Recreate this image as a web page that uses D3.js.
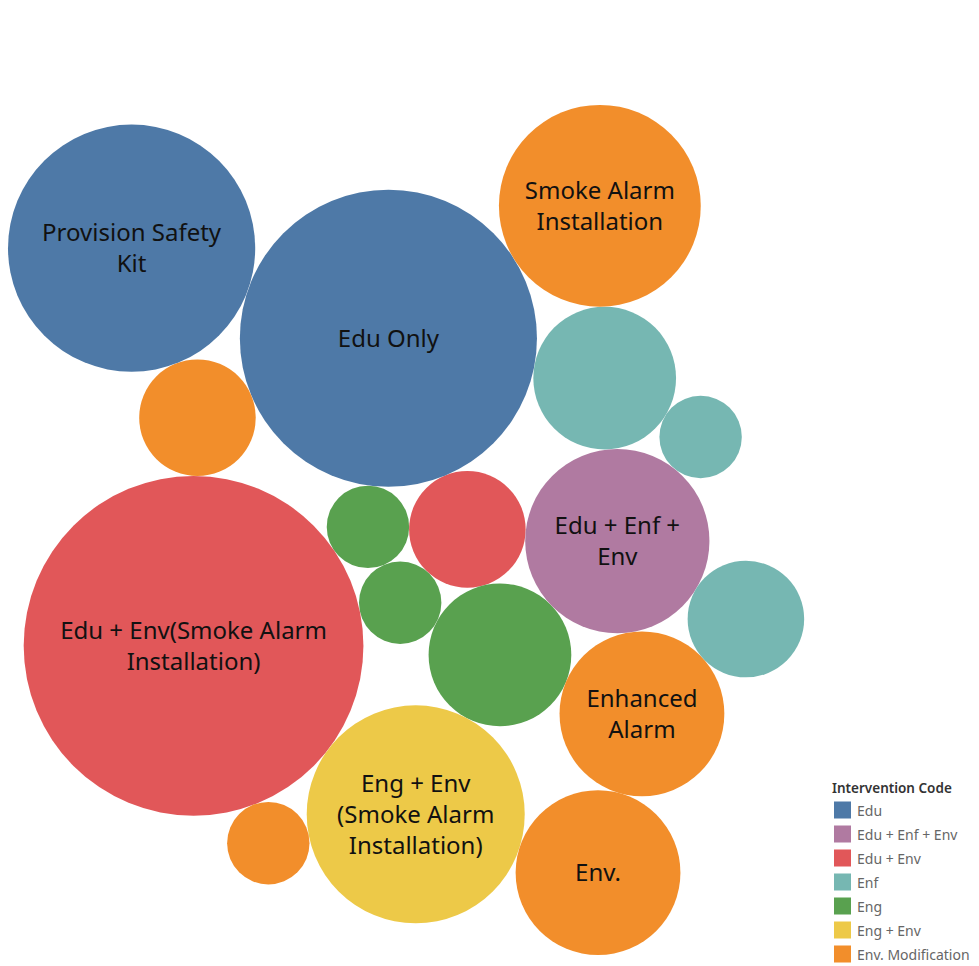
<!DOCTYPE html>
<html>
<head>
<meta charset="utf-8">
<script src="https://cdn.jsdelivr.net/npm/d3@7"></script>
<style>
  body { margin: 0; background: #fff; }
  svg { display: block; font-family: "Noto Sans", sans-serif; }
</style>
</head>
<body>
<div id="chart"></div>
<script>
const width = 979;
const height = 966;

// one entry per bubble, in the order they get packed ("" = bubble too small for its label)
const labels = [
  "",
  "",
  "",
  "",
  "Edu Only",
  "Edu + Enf +\nEnv",
  "Edu + Env(Smoke Alarm\nInstallation)",
  "Eng + Env\n(Smoke Alarm\nInstallation)",
  "",
  "",
  "Enhanced\nAlarm",
  "Env.",
  "",
  "",
  "Smoke Alarm\nInstallation",
  "",
  "Provision Safety\nKit"
];
const codes = [
  "Edu + Env", "Eng", "Eng", "Eng", "Edu", "Edu + Enf + Env", "Edu + Env",
  "Eng + Env", "Enf", "Env. Modification", "Env. Modification", "Env. Modification",
  "Enf", "Enf", "Env. Modification", "Env. Modification", "Edu"
];
const counts = [2, 1, 1, 3, 13, 5, 17, 7, 3, 2, 4, 4, 1, 2, 6, 1, 9];

// legend
const codeOrder = ["Edu", "Edu + Enf + Env", "Edu + Env", "Enf", "Eng", "Eng + Env", "Env. Modification"];
const codeColors = ["#4e79a7", "#b07aa1", "#e15759", "#76b7b2", "#59a14f", "#edc948", "#f28e2b"];

const color = d3.scaleOrdinal().domain(codeOrder).range(codeColors);
const radius = d3.scaleSqrt().domain([0, 1]).range([0, 41.2]);

// orientation / placement of the packed group
const rotation = 132.5; // degrees
const packLeft = 8;
const packMidY = 530;

const svg = d3
  .select("#chart")
  .append("svg")
  .attr("width", width)
  .attr("height", height);

const nodes = counts.map((v, i) => ({
  label: labels[i],
  code: codes[i],
  value: v,
  r: radius(v)
}));

d3.packSiblings(nodes);

const a = (rotation * Math.PI) / 180;
nodes.forEach((d) => {
  const x = d.x * Math.cos(a) - d.y * Math.sin(a);
  const y = d.x * Math.sin(a) + d.y * Math.cos(a);
  d.x = x;
  d.y = y;
});
const x0 = d3.min(nodes, (d) => d.x - d.r);
const y0 = d3.min(nodes, (d) => d.y - d.r);
const y1 = d3.max(nodes, (d) => d.y + d.r);
const dx = packLeft - x0;
const dy = packMidY - (y0 + y1) / 2;

const bubble = svg
  .append("g")
  .selectAll("g")
  .data(nodes)
  .enter()
  .append("g")
  .attr("transform", (d) => `translate(${d.x + dx},${d.y + dy})`);

bubble
  .append("circle")
  .attr("r", (d) => d.r)
  .attr("fill", (d) => color(d.code));

const lineHeight = 31;
bubble
  .filter((d) => d.label)
  .append("text")
  .attr("text-anchor", "middle")
  .attr("font-size", 24)
  .attr("fill", "#111")
  .each(function (d) {
    const lines = d.label.split("\n");
    const top = -((lines.length - 1) * lineHeight) / 2;
    d3.select(this)
      .selectAll("tspan")
      .data(lines)
      .enter()
      .append("tspan")
      .attr("x", 0)
      .attr("y", (l, i) => top + i * lineHeight)
      .attr("dy", "0.35em")
      .text((l) => l);
  });

// legend
const legend = svg.append("g").attr("transform", "translate(832,0)");
legend
  .append("text")
  .attr("x", 0)
  .attr("y", 793)
  .attr("font-size", 13.5)
  .attr("font-weight", 600)
  .attr("fill", "#333")
  .text("Intervention Code");

const item = legend
  .selectAll("g.item")
  .data(codeOrder)
  .enter()
  .append("g")
  .attr("class", "item")
  .attr("transform", (d, i) => `translate(0,${810 + i * 24})`);

item
  .append("rect")
  .attr("x", 2)
  .attr("y", -8.5)
  .attr("width", 17)
  .attr("height", 17)
  .attr("fill", (d) => color(d));

item
  .append("text")
  .attr("x", 25)
  .attr("y", 1)
  .attr("dy", "0.35em")
  .attr("font-size", 14)
  .attr("fill", "#666")
  .text((d) => d);
</script>
</body>
</html>
